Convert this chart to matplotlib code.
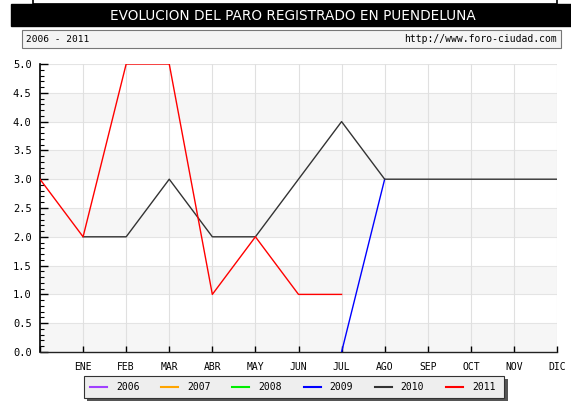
import matplotlib
matplotlib.use("Agg")
import matplotlib.pyplot as plt
from matplotlib.patches import Rectangle
from matplotlib.lines import Line2D
import numpy as np

months = ["", "ENE", "FEB", "MAR", "ABR", "MAY", "JUN", "JUL", "AGO", "SEP", "OCT", "NOV", "DIC"]
years = ["2006", "2007", "2008", "2009", "2010", "2011"]
colors = ["#a040ff", "#ffa500", "#00ee00", "#0000ff", "#333333", "#ff0000"]

# values indexed by position 0..12 (0 = December of the previous year)
x_2009 = [7, 8]
y_2009 = [0, 3]
x_2010 = [1, 2, 3, 4, 5, 6, 7, 8, 9, 10, 11, 12]
y_2010 = [2, 2, 3, 2, 2, 3, 4, 3, 3, 3, 3, 3]
x_2011 = [0, 1, 2, 3, 4, 5, 6, 7]
y_2011 = [3, 2, 5, 5, 1, 2, 1, 1]

W, H = 571, 401
fig = plt.figure(figsize=(W / 100, H / 100), dpi=100)
fig.patch.set_facecolor("white")

def fx(px):
    return px / W

def fy(py):
    return 1 - py / H

# top partial white box
fig.patches.append(Rectangle((fx(33), fy(4)), fx(557) - fx(33), fy(-5) - fy(4),
                             transform=fig.transFigure, facecolor="white", edgecolor="black", lw=1.2))
# black title bar
fig.patches.append(Rectangle((fx(11), fy(26)), fx(571) - fx(11), fy(4) - fy(26),
                             transform=fig.transFigure, facecolor="black", edgecolor="black"))
fig.text(fx(293), fy(15.5), "EVOLUCION DEL PARO REGISTRADO EN PUENDELUNA", color="white",
         ha="center", va="center", fontsize=9.8, family="DejaVu Sans")
# subtitle box
fig.patches.append(Rectangle((fx(22), fy(48)), fx(561) - fx(22), fy(30) - fy(48),
                             transform=fig.transFigure, facecolor="#f4f4f4", edgecolor="#777777", lw=0.8))
fig.text(fx(26), fy(39), "2006 - 2011", ha="left", va="center", fontsize=6.8, family="DejaVu Sans Mono")
fig.text(fx(557), fy(39), "http://www.foro-ciudad.com", ha="right", va="center", fontsize=7,
         family="DejaVu Sans Mono")

ax = fig.add_axes([fx(40), fy(352), fx(557) - fx(40), fy(64) - fy(352)])
ax.set_xlim(0, 12)
ax.set_ylim(0, 5)
ax.set_facecolor("white")
for b in np.arange(0, 5, 1.0):
    ax.axhspan(b, b + 0.5, color="#f6f6f6", zorder=0, lw=0)
for yv in np.arange(0.5, 5.01, 0.5):
    ax.axhline(yv, color="#e4e4e4", lw=0.8, zorder=1)
for xv in range(1, 13):
    ax.axvline(xv, color="#e0e0e0", lw=0.8, zorder=1)

ax.plot(x_2009, y_2009, color=colors[3], lw=1, zorder=3)
ax.plot(x_2010, y_2010, color=colors[4], lw=1, zorder=4)
ax.plot(x_2011, y_2011, color=colors[5], lw=1, zorder=5)

for s in ["top", "right"]:
    ax.spines[s].set_visible(False)
ax.spines["left"].set_linewidth(1.2)
ax.spines["bottom"].set_linewidth(1.0)
ax.spines["bottom"].set_color("#222222")

ax.set_yticks(np.arange(0, 5.01, 0.5))
ax.set_yticklabels([f"{v:.1f}" for v in np.arange(0, 5.01, 0.5)], fontsize=7.5, family="DejaVu Sans Mono")
ax.set_yticks(np.arange(0, 5.01, 0.1), minor=True)
ax.tick_params(axis="y", which="major", direction="in", length=6, width=1, pad=6)
ax.tick_params(axis="y", which="minor", direction="in", length=3, width=0.8)
ax.set_xticks(range(0, 13))
ax.set_xticklabels(months, fontsize=7, family="DejaVu Sans Mono")
ax.tick_params(axis="x", direction="in", length=4, width=1, pad=7)

# legend box with shadow
fig.patches.append(Rectangle((fx(87), fy(401)), fx(508) - fx(87), fy(379) - fy(401),
                             transform=fig.transFigure, facecolor="#555555", edgecolor="none"))
fig.patches.append(Rectangle((fx(84), fy(398)), fx(504) - fx(84), fy(376) - fy(398),
                             transform=fig.transFigure, facecolor="#eeeeee", edgecolor="#333333", lw=0.8))
for i, (yr, c) in enumerate(zip(years, colors)):
    x0 = 90 + i * 71.2
    fig.lines.append(Line2D([fx(x0), fx(x0 + 17)], [fy(387), fy(387)], transform=fig.transFigure,
                            color=c, lw=1.5))
    fig.text(fx(x0 + 26), fy(387), yr, ha="left", va="center", fontsize=7, family="DejaVu Sans Mono")

fig.savefig("out.png", dpi=100)
